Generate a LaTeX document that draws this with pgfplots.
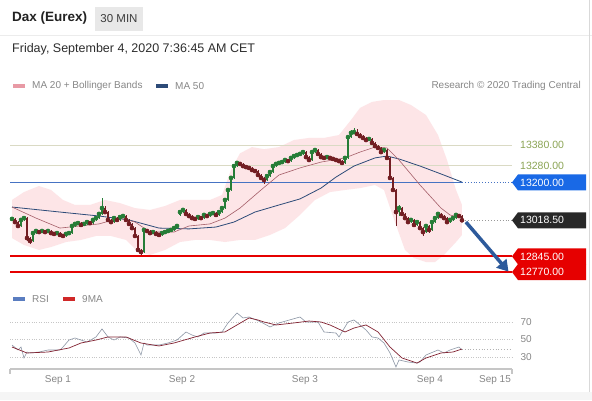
\documentclass[border=0pt]{standalone}
\usepackage{pgfplots}
\pgfplotsset{compat=1.18}
\usepackage{pgfplotstable}
\usetikzlibrary{arrows.meta}
\usepackage{fontspec}
\setmainfont{Liberation Sans}
\newcommand{\fs}[1]{\fontsize{#1}{#1}\selectfont}
\definecolor{upc}{RGB}{38,125,55}
\definecolor{dnc}{RGB}{115,30,35}
\definecolor{bandc}{RGB}{253,229,231}
\definecolor{ma20c}{RGB}{165,95,105}
\definecolor{ma50c}{RGB}{45,75,120}
\definecolor{olivec}{RGB}{140,165,85}
\definecolor{khaki}{RGB}{218,218,196}
\definecolor{lvlblue}{RGB}{70,115,195}
\definecolor{tagblue}{RGB}{25,105,230}
\definecolor{tagred}{RGB}{230,0,0}
\definecolor{tagdark}{RGB}{40,40,40}
\definecolor{arrowc}{RGB}{45,90,155}
\definecolor{txtgray}{RGB}{135,135,135}
\definecolor{rsic}{RGB}{140,150,165}
\definecolor{mac}{RGB}{130,35,50}
\definecolor{titlec}{RGB}{34,34,34}
\definecolor{minc}{RGB}{60,60,60}
\definecolor{datec}{RGB}{45,45,45}
\definecolor{swpink}{RGB}{232,154,165}
\definecolor{swblue}{RGB}{90,125,192}
\definecolor{swred}{RGB}{208,40,40}

\pgfplotstableread{
i o h l c
0 13020 13032 13013 13025
1 13025 13030 13004 13010
2 13010 13014 12985 12991
3 12991 13026 12986 13020
4 13020 13036 13015 13029
5 13029 13033 12920 12933
6 12933 12940 12905 12919
7 12919 12962 12914 12957
8 12957 12973 12952 12967
9 12967 12972 12956 12962
10 12962 12973 12957 12967
11 12967 12972 12957 12962
12 12962 12972 12956 12967
13 12967 12971 12952 12957
14 12957 12962 12947 12953
15 12953 12963 12948 12957
16 12957 12961 12942 12948
17 12948 12952 12937 12943
18 12943 12958 12938 12953
19 12953 12963 12948 12957
20 12957 12996 12953 12991
21 12991 13007 12987 13001
22 13001 13011 12996 13005
23 13005 13009 12991 12996
24 12996 13006 12991 13001
25 13001 13015 12997 13010
26 13010 13014 13000 13005
27 13005 13025 13000 13020
28 13020 13035 13015 13029
29 13029 13054 13024 13049
30 13049 13125 13044 13077
31 13077 13085 13052 13058
32 13058 13062 13014 13020
33 13020 13025 13004 13010
34 13010 13034 13005 13029
35 13029 13034 13015 13020
36 13020 13040 13016 13034
37 13034 13045 13029 13039
38 13039 13043 13014 13020
39 13020 13024 12996 13001
40 13001 13005 12976 12981
41 12981 12985 12937 12943
42 12943 12947 12868 12876
43 12876 12880 12850 12866
44 12866 12978 12860 12972
45 12972 12977 12961 12967
46 12967 12971 12952 12957
47 12957 12967 12952 12962
48 12962 12966 12948 12953
49 12953 12957 12942 12948
50 12948 12962 12943 12957
51 12957 12967 12952 12962
52 12962 12972 12957 12967
53 12967 12977 12962 12972
54 12972 12987 12967 12981
55 12981 12996 12976 12991
56 13045 13066 13040 13058
57 13058 13075 13052 13068
58 13068 13072 13044 13049
59 13049 13054 13034 13039
60 13039 13043 13024 13029
61 13029 13034 13020 13025
62 13025 13039 13020 13034
63 13034 13038 13024 13029
64 13029 13049 13025 13044
65 13044 13048 13034 13039
66 13039 13055 13034 13049
67 13049 13059 13044 13053
68 13053 13058 13039 13044
69 13044 13063 13040 13058
70 13058 13082 13053 13077
71 13077 13121 13072 13116
72 13116 13170 13110 13164
73 13164 13228 13158 13222
74 13222 13290 13216 13279
75 13279 13300 13272 13294
76 13294 13298 13282 13289
77 13289 13293 13274 13279
78 13279 13284 13268 13274
79 13274 13279 13264 13270
80 13270 13274 13255 13260
81 13260 13265 13250 13255
82 13255 13259 13230 13236
83 13236 13241 13216 13222
84 13222 13227 13192 13212
85 13212 13236 13206 13231
86 13231 13255 13226 13250
87 13250 13284 13245 13279
88 13279 13294 13274 13289
89 13289 13300 13284 13294
90 13294 13304 13289 13298
91 13298 13313 13293 13308
92 13308 13312 13298 13303
93 13303 13323 13298 13318
94 13318 13333 13313 13327
95 13327 13337 13322 13332
96 13332 13342 13327 13337
97 13337 13352 13332 13346
98 13346 13350 13317 13322
99 13322 13327 13303 13308
100 13308 13351 13304 13346
101 13346 13365 13341 13356
102 13356 13360 13332 13337
103 13337 13341 13317 13322
104 13322 13327 13313 13318
105 13318 13327 13313 13322
106 13322 13327 13312 13318
107 13318 13322 13308 13313
108 13313 13318 13303 13308
109 13308 13313 13292 13303
110 13303 13308 13285 13294
111 13294 13323 13289 13318
112 13318 13424 13313 13418
113 13418 13452 13412 13438
114 13438 13462 13433 13442
115 13442 13458 13428 13433
116 13433 13440 13418 13423
117 13423 13428 13408 13414
118 13414 13420 13398 13404
119 13404 13415 13399 13409
120 13409 13413 13384 13390
121 13390 13394 13369 13375
122 13375 13380 13360 13366
123 13366 13370 13340 13346
124 13346 13362 13341 13356
125 13356 13360 13312 13318
126 13318 13322 13215 13222
127 13222 13228 13155 13164
128 13164 13168 12990 13058
129 13058 13090 13040 13077
130 13077 13082 13043 13049
131 13049 13054 13022 13029
132 13029 13034 13004 13010
133 13010 13026 13005 13020
134 13020 13024 12990 12996
135 12996 13015 12991 13010
136 13010 13014 12975 12981
137 12981 12986 12943 12962
138 12962 12996 12957 12991
139 12991 12995 12955 12972
140 12972 13015 12967 13010
141 13010 13035 13005 13029
142 13029 13056 13024 13049
143 13049 13053 13034 13039
144 13039 13044 13024 13029
145 13029 13034 13004 13010
146 13010 13026 13005 13020
147 13020 13035 13015 13029
148 13029 13050 13024 13044
149 13044 13048 13034 13039
150 13039 13043 13012 13018.5
}\candles

\begin{document}
\begin{tikzpicture}
\fill[white] (0pt,0pt) rectangle (592pt,400pt);
% header
\draw[gray!15, line width=1pt] (0pt,364pt) -- (592pt,364pt);
\fill[gray!8] (0pt,0pt) rectangle (592pt,8pt);
\draw[gray!30, line width=0.8pt] (589pt,8pt) -- (589pt,400pt);
\node[anchor=west, inner sep=0pt, text=titlec] at (12pt,382pt) {\fs{13.5}\bfseries Dax (Eurex)};
\fill[gray!18] (95pt,369pt) rectangle (143pt,393pt);
\node[inner sep=0pt, text=minc] at (119pt,381pt) {\fs{11.5}30 MIN};
\node[anchor=west, inner sep=0pt, text=datec] at (12pt,351pt) {\fs{12.5}Friday, September 4, 2020 7:36:45 AM CET};
% legend
\fill[swpink] (13pt,312pt) rectangle (25pt,316pt);
\node[anchor=west, inner sep=0pt, text=txtgray] at (32pt,314pt) {\fs{10}MA 20 + Bollinger Bands};
\fill[ma50c] (156pt,312pt) rectangle (168pt,316pt);
\node[anchor=west, inner sep=0pt, text=txtgray] at (175pt,314pt) {\fs{10}MA 50};
\node[anchor=east, inner sep=0pt, text=txtgray] at (581pt,314pt) {\fs{10}Research \textcopyright{} 2020 Trading Central};
\fill[swblue] (13pt,99pt) rectangle (25pt,103pt);
\node[anchor=west, inner sep=0pt, text=txtgray] at (32pt,101pt) {\fs{10}RSI};
\fill[swred] (63pt,99pt) rectangle (75pt,103pt);
\node[anchor=west, inner sep=0pt, text=txtgray] at (82pt,101pt) {\fs{10}9MA};

\begin{axis}[at={(10pt,120pt)}, anchor=south west, scale only axis,
  width=502pt, height=185pt, xmin=-0.667, xmax=166.67,
  ymin=12731.6, ymax=13620.2, hide axis, clip=false]
% Bollinger bands (upper band forward, lower band backward)
\addplot[fill=bandc, draw=none, forget plot] coordinates {
(0,13116) (4,13154) (9,13183) (13,13164) (17,13116) (21,13092) (26,13092)
(31,13116) (36,13101) (41,13077) (46,13068) (51,13087) (56,13116) (61,13116)
(66,13116) (70,13140) (73,13260) (76,13340) (80,13370) (84,13360) (89,13370)
(94,13404) (99,13414) (104,13414) (109,13428) (113,13500) (116,13558)
(120,13587) (124,13596) (129,13596) (133,13572) (138,13524) (142,13428)
(145,13308) (148,13164) (150,13092)
(150,12948) (148,12914) (144,12852) (141,12818) (138,12818) (134,12837)
(131,12876) (128,12996) (124,13164) (121,13188) (116,13173) (111,13164)
(106,13154) (101,13116) (96,13044) (91,12981) (86,12948) (81,12924)
(76,12924) (71,12914) (66,12924) (61,12924) (56,12914) (51,12876)
(46,12852) (42,12866) (38,12924) (33,12943) (28,12943) (23,12924)
(18,12914) (13,12890) (9,12876) (4,12900) (0,12933)} -- cycle;
% levels
\draw[khaki, line width=1pt] (axis cs:-0.667,13380) -- (axis cs:166.67,13380);
\draw[khaki, line width=1pt] (axis cs:-0.667,13280) -- (axis cs:166.67,13280);
\draw[lvlblue, line width=0.9pt] (axis cs:-0.667,13200) -- (axis cs:150,13200);
\draw[lvlblue, line width=0.9pt, dotted] (axis cs:150,13200) -- (axis cs:166.67,13200);
\draw[gray!80, line width=0.9pt, dotted] (axis cs:151,13018.5) -- (axis cs:166.67,13018.5);
\draw[tagred, line width=1.8pt] (axis cs:-0.667,12845) -- (axis cs:166.67,12845);
\draw[tagred, line width=1.8pt] (axis cs:-0.667,12770) -- (axis cs:166.67,12770);
% moving averages
\addplot[ma50c, line width=0.8pt, forget plot] coordinates {
(0,13082) (16,13058) (29,13039) (39,13020) (49,12981) (59,12977) (68,12986)
(74,13010) (81,13058) (89,13092) (96,13121) (103,13173) (108,13226)
(114,13279) (121,13318) (125,13327) (129,13313) (136,13279) (143,13241)
(150,13202)};
\addplot[ma20c, line width=0.6pt, forget plot] coordinates {
(0,13082) (8,13029) (16,12981) (29,13001) (36,13029) (41,13010) (46,12962)
(54,12962) (59,12991) (66,13001) (71,13029) (76,13077) (83,13164)
(89,13236) (96,13270) (103,13298) (111,13318) (116,13346) (121,13370)
(125,13366) (129,13308) (136,13188) (143,13077) (146,13044) (150,13029)};
% candle wicks
\addplot[upc, only marks, mark=none, forget plot, restrict y to domain=10000:20000,
  error bars/.cd, y dir=both, y explicit, error mark=none,
  error bar style={line width=0.6pt, draw=upc}]
  table[x=i, y expr={\thisrow{c}>=\thisrow{o} ? \thisrow{c} : -1},
        y error plus expr={\thisrow{h}-\thisrow{c}},
        y error minus expr={\thisrow{c}-\thisrow{l}}] \candles;
\addplot[dnc, only marks, mark=none, forget plot, restrict y to domain=10000:20000,
  error bars/.cd, y dir=both, y explicit, error mark=none,
  error bar style={line width=0.6pt, draw=dnc}]
  table[x=i, y expr={\thisrow{c}<\thisrow{o} ? \thisrow{c} : -1},
        y error plus expr={\thisrow{h}-\thisrow{c}},
        y error minus expr={\thisrow{c}-\thisrow{l}}] \candles;
% candle bodies
\addplot[upc, only marks, mark=none, forget plot, restrict y to domain=10000:20000,
  error bars/.cd, y dir=minus, y explicit, error mark=none,
  error bar style={line width=2pt, draw=upc}]
  table[x=i, y expr={\thisrow{c}>=\thisrow{o} ? \thisrow{c} : -1},
        y error minus expr={\thisrow{c}-\thisrow{o}}] \candles;
\addplot[dnc, only marks, mark=none, forget plot, restrict y to domain=10000:20000,
  error bars/.cd, y dir=plus, y explicit, error mark=none,
  error bar style={line width=2pt, draw=dnc}]
  table[x=i, y expr={\thisrow{c}<\thisrow{o} ? \thisrow{c} : -1},
        y error plus expr={\thisrow{o}-\thisrow{c}}] \candles;
% arrow
\draw[arrowc, line width=3.5pt, -{Triangle[length=11pt,width=13pt]}]
  (axis cs:151.3,13010) -- (axis cs:165.5,12772);
% tags
\node[anchor=west, inner sep=0pt, text=olivec] at ([xshift=8pt]axis cs:166.67,13380) {\fs{10.5}13380.00};
\node[anchor=west, inner sep=0pt, text=olivec] at ([xshift=8pt]axis cs:166.67,13280) {\fs{10.5}13280.00};
\fill[tagblue] (axis cs:166.67,13200) -- ++(6pt,8pt) -- ++(68pt,0pt) -- ++(0pt,-16pt) -- ++(-68pt,0pt) -- cycle;
\node[anchor=west, inner sep=0pt, text=white] at ([xshift=8pt]axis cs:166.67,13200) {\fs{10.5}13200.00};
\fill[tagdark] (axis cs:166.67,13018.5) -- ++(6pt,8pt) -- ++(68pt,0pt) -- ++(0pt,-16pt) -- ++(-68pt,0pt) -- cycle;
\node[anchor=west, inner sep=0pt, text=white] at ([xshift=8pt]axis cs:166.67,13018.5) {\fs{10.5}13018.50};
\fill[tagred] (axis cs:166.67,12845) -- ++(6pt,8pt) -- ++(68pt,0pt) -- ++(0pt,-16pt) -- ++(-68pt,0pt) -- cycle;
\node[anchor=west, inner sep=0pt, text=white] at ([xshift=8pt]axis cs:166.67,12845) {\fs{10.5}12845.00};
\fill[tagred] (axis cs:166.67,12770) -- ++(6pt,8pt) -- ++(68pt,0pt) -- ++(0pt,-16pt) -- ++(-68pt,0pt) -- cycle;
\node[anchor=west, inner sep=0pt, text=white] at ([xshift=8pt]axis cs:166.67,12770) {\fs{10.5}12770.00};
\end{axis}

\begin{axis}[at={(10pt,31pt)}, anchor=south west, scale only axis,
  width=502pt, height=64pt, xmin=-0.667, xmax=166.67, ymin=16.3, ymax=89.4,
  axis x line*=bottom, axis y line*=right,
  y axis line style={draw=none}, x axis line style={draw=gray!45, line width=1.5pt},
  major tick length=0pt, ytick={30,50,70},
  xtick={15.33,56.67,97.67,139.33,161},
  xticklabels={Sep 1,Sep 2,Sep 3,Sep 4,Sep 15},
  ymajorgrids, grid style={gray!45, dotted, line width=0.8pt},
  ticklabel style={font=\fs{10}, text=txtgray},
  xticklabel style={yshift=-3pt},
  yticklabel style={xshift=5pt},
  /pgf/number format/assume math mode=true, clip=false]
\draw[gray!45, line width=1.2pt] (axis cs:-0.667,16.3) -- ++(0pt,-5pt);
\draw[gray!45, line width=1.2pt] (axis cs:166.67,16.3) -- ++(0pt,-5pt);
\draw[gray!60, dotted, line width=0.8pt] (axis cs:150,38.5) -- (axis cs:166.67,38.5);
\addplot[rsic, line width=0.6pt, forget plot] coordinates {
(0,43.7) (2,38.0) (3,41.4) (4,28.9) (5,35.7) (6,34.6) (9,35.7) (12,38.0)
(16,38.0) (17,41.4) (19,49.4) (21,51.7) (23,49.4) (25,47.1) (28,52.9)
(30,62.0) (32,52.9) (34,49.4) (36,52.9) (39,51.7) (41,46.0) (43,32.3)
(44,46.0) (45,43.7) (49,43.7) (52,46.0) (55,49.4) (58,58.6) (60,55.1)
(62,52.9) (64,57.4) (68,57.4) (70,58.6) (72,68.9) (75,80.3) (77,74.6)
(79,75.7) (83,70.0) (86,64.3) (89,68.9) (96,75.7) (98,70.0) (102,70.0)
(104,58.6) (108,57.4) (109,52.9) (112,70.0) (114,72.3) (116,66.6)
(118,60.9) (120,52.9) (122,51.7) (124,46.0) (126,34.6) (128,18.6)
(129,26.6) (132,24.3) (135,23.1) (136,24.3) (138,32.3) (142,38.0)
(144,34.6) (146,38.0) (148,40.3) (149,41.4) (150,38.0)};
\addplot[mac, line width=0.7pt, forget plot] coordinates {
(0,41.4) (5,34.6) (12,35.7) (19,40.3) (23,46.0) (28,49.4) (32,52.9)
(38,52.9) (43,46.0) (49,42.6) (54,46.0) (61,52.9) (66,57.4) (71,58.6)
(75,66.6) (79,74.6) (82,72.3) (84,70.0) (88,66.6) (94,68.9) (99,71.1)
(103,70.0) (106,66.6) (111,58.6) (114,63.1) (118,66.6) (122,58.6)
(126,41.4) (130,28.9) (135,23.1) (138,28.9) (143,34.6) (147,35.7) (150,39.1)};
\end{axis}
\pgfresetboundingbox
\path (0pt,0pt) rectangle (592pt,400pt);
\end{tikzpicture}
\end{document}
